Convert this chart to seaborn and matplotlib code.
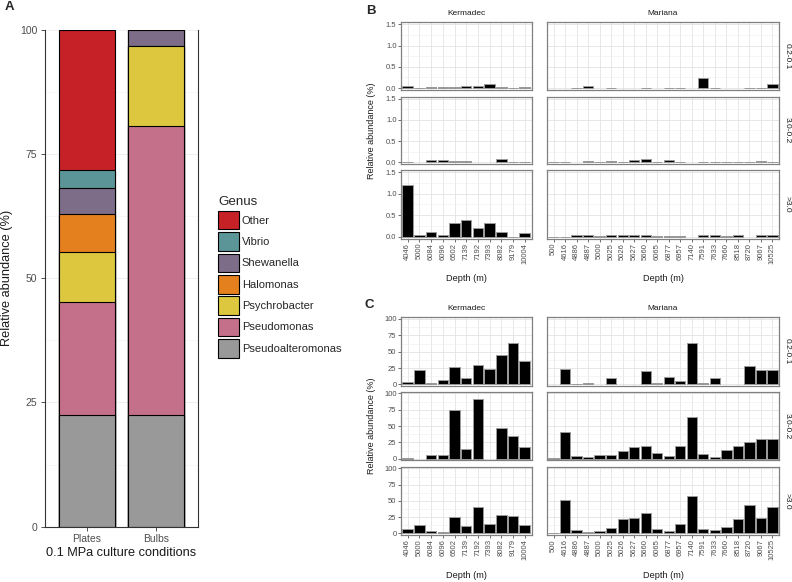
import numpy as np
import pandas as pd
import matplotlib
matplotlib.use("Agg")
import matplotlib.pyplot as plt
import seaborn as sns
from matplotlib.patches import Patch
from matplotlib.ticker import FixedLocator

# ---------------- data ----------------
genera = ["Other", "Vibrio", "Shewanella", "Halomonas", "Psychrobacter",
          "Pseudomonas", "Pseudoalteromonas"]
genus_colors = ["#C62127", "#5B9597", "#7D6D88", "#E5801F", "#DDC73F",
                "#C4708A", "#999999"]
conditions = ["Plates", "Bulbs"]
plates_pct = [28.3, 3.5, 5.3, 7.6, 10.0, 22.9, 22.4]
bulbs_pct = [0.0, 0.0, 3.3, 0.0, 16.0, 58.2, 22.5]

fractions = ["0.2-0.1", "3.0-0.2", ">3.0"]
kermadec_depths = ["4046", "5000", "6084", "6096", "6502", "7139", "7192",
                   "7393", "8082", "9179", "10004"]
mariana_depths = ["500", "4616", "4886", "4887", "5000", "5025", "5026", "5627",
                  "5660", "6065", "6877", "6957", "7140", "7591", "7633", "7660",
                  "8518", "8720", "9067", "10525"]
nan = np.nan

# Panel B (relative abundance, %)
b_kermadec_02 = [0.04, 0.0, 0.03, 0.03, 0.02, 0.04, 0.04, 0.10, 0.02, 0.0, 0.02]
b_kermadec_30 = [0.0, nan, 0.04, 0.05, 0.03, 0.03, nan, nan, 0.07, 0.0, 0.0]
b_kermadec_gt3 = [1.2, 0.05, 0.10, 0.05, 0.32, 0.38, 0.20, 0.31, 0.11, 0.0, 0.09]
b_mariana_02 = [nan, nan, 0.0, 0.06, nan, 0.01, nan, nan, 0.0, nan, 0.01, 0.0,
                nan, 0.24, 0.01, nan, nan, 0.0, 0.0, 0.10]
b_mariana_30 = [0.01, 0.0, nan, 0.03, 0.0, 0.02, 0.01, 0.04, 0.07, 0.0, 0.04, 0.0,
                nan, 0.01, 0.01, 0.01, 0.01, 0.01, 0.02, 0.0]
b_mariana_gt3 = [0.0, 0.0, 0.03, 0.04, 0.01, 0.05, 0.03, 0.03, 0.03, 0.02, 0.01, 0.01,
                 nan, 0.04, 0.03, 0.01, 0.03, nan, 0.04, 0.04]

# Panel C (relative abundance, %)
c_kermadec_02 = [4, 22, 2, 6, 26, 9, 29, 23, 45, 63, 35]
c_kermadec_30 = [1, nan, 5, 6, 75, 15, 92, nan, 47, 34, 18]
c_kermadec_gt3 = [7, 12.5, 4, 2.5, 25, 11, 41, 14, 29, 26, 12.5]
c_mariana_02 = [nan, 23, 1, 2.5, nan, 10, nan, nan, 21, 1.5, 12, 5, 64, 2.5, 10,
                nan, nan, 28, 22, 22]
c_mariana_30 = [1, 41, 3.5, 2, 5.5, 6, 12, 17.5, 19.5, 8.5, 3.5, 19, 64, 6.5, 3,
                13, 19.5, 26, 30, 30]
c_mariana_gt3 = [1, 52, 5, 2.5, 4, 8.5, 22, 23, 31, 6.5, 3, 15, 58, 6.5, 5, 10,
                 22, 43, 24, 41]

# ---------------- figure ----------------
sns.set_theme(style="white")
plt.rcParams["font.family"] = ["Liberation Sans", "DejaVu Sans"]

W, H = 792, 582
fig = plt.figure(figsize=(W / 100, H / 100), dpi=100)
fig.patch.set_facecolor("white")


def rect(x0, y0, x1, y1):
    return [x0 / W, 1 - y1 / H, (x1 - x0) / W, (y1 - y0) / H]


def ftext(x, y, s, **kw):
    fig.text(x / W, 1 - y / H, s, **kw)


TXT = "#1A1A1A"
TICKC = "#4D4D4D"

# ---------------- Panel A ----------------
axA = fig.add_axes(rect(45, 29.6, 198, 526.7))
axA.set_axisbelow(True)
for i, g in enumerate(genera):
    top_plates = sum(plates_pct[i:])
    top_bulbs = sum(bulbs_pct[i:])
    sns.barplot(x=conditions, y=[top_plates, top_bulbs], order=conditions,
                color=genus_colors[i], saturation=1, edgecolor="black",
                linewidth=0.8, width=0.8, errorbar=None, ax=axA)
axA.set_xlim(-0.6, 1.6)
axA.set_ylim(0, 100)
axA.set_yticks([0, 25, 50, 75, 100])
axA.set_yticklabels(["0", "25", "50", "75", "100"])
axA.yaxis.set_minor_locator(FixedLocator([12.5, 37.5, 62.5, 87.5]))
axA.grid(True, which="major", axis="y", color="#EDEDED", lw=0.6)
axA.grid(True, which="minor", axis="y", color="#F4F4F4", lw=0.5)
axA.set_xlabel("")
axA.set_ylabel("")
axA.tick_params(axis="both", which="major", labelsize=7.5, labelcolor=TICKC,
                length=3, width=0.6, color="#333333", pad=2.5, left=True, bottom=True)
axA.tick_params(axis="y", which="minor", left=False)
for side in ["left", "bottom", "right"]:
    axA.spines[side].set_visible(True)
    axA.spines[side].set_color("#333333")
    axA.spines[side].set_linewidth(0.8)
axA.spines["top"].set_visible(False)
ftext(121.5, 553, "0.1 MPa culture conditions", ha="center", va="center",
      fontsize=9.2, color=TXT)
ftext(7, 278, "Relative abundance (%)", ha="center", va="center", rotation=90,
      fontsize=9.2, color=TXT)

handles = [Patch(facecolor=c, edgecolor="black", linewidth=0.8) for c in genus_colors]
leg = fig.legend(handles, genera, title="Genus", loc="upper left",
                 bbox_to_anchor=(218 / W, 1 - 196 / H), frameon=False,
                 fontsize=8, title_fontsize=9.6, handlelength=1.85,
                 handleheight=2.2, labelspacing=0.25, handletextpad=0.3,
                 borderpad=0, borderaxespad=0, alignment="left")

# ---------------- Panels B and C ----------------
cols = {"Kermadec": (400.7, 531.7), "Mariana": (546.7, 779.3)}
depths = {"Kermadec": kermadec_depths, "Mariana": mariana_depths}
sections = [
    dict(rows=[(22.3, 90), (96.7, 164), (170, 238.7)],
         ylim=(-0.045, 1.55), ticks=[0, 0.5, 1.0, 1.5],
         ticklabels=["0.0", "0.5", "1.0", "1.5"], minor=[0.25, 0.75, 1.25],
         data={"Kermadec": [b_kermadec_02, b_kermadec_30, b_kermadec_gt3],
               "Mariana": [b_mariana_02, b_mariana_30, b_mariana_gt3]}),
    dict(rows=[(317.3, 386), (391.7, 460.3), (466.7, 535)],
         ylim=(-2.5, 102.6), ticks=[0, 25, 50, 75, 100],
         ticklabels=["0", "25", "50", "75", "100"], minor=[12.5, 37.5, 62.5, 87.5],
         data={"Kermadec": [c_kermadec_02, c_kermadec_30, c_kermadec_gt3],
               "Mariana": [c_mariana_02, c_mariana_30, c_mariana_gt3]}),
]

for sec in sections:
    rows = sec["rows"]
    for col, (x0, x1) in cols.items():
        dep = depths[col]
        for r, (y0, y1) in enumerate(rows):
            ax = fig.add_axes(rect(x0, y0, x1, y1))
            ax.set_axisbelow(True)
            vals = sec["data"][col][r]
            sns.barplot(x=dep, y=vals, order=dep, color="black", saturation=1,
                        edgecolor="#9A9A9A", linewidth=0.7, width=0.9,
                        errorbar=None, ax=ax)
            ax.set_xlim(-0.6, len(dep) - 0.4)
            ax.set_ylim(*sec["ylim"])
            ax.set_yticks(sec["ticks"])
            ax.set_yticklabels(sec["ticklabels"])
            ax.yaxis.set_minor_locator(FixedLocator(sec["minor"]))
            ax.grid(True, which="major", color="#E3E3E3", lw=0.6)
            ax.grid(True, which="minor", axis="y", color="#F0F0F0", lw=0.45)
            ax.set_xlabel("")
            ax.set_ylabel("")
            for s in ax.spines.values():
                s.set_visible(True)
                s.set_color("#808080")
                s.set_linewidth(0.9)
            ax.tick_params(axis="y", which="minor", left=False)
            if col == "Kermadec":
                ax.tick_params(axis="y", which="major", left=True, length=2,
                               width=0.5, color="#333333", pad=1, labelsize=5.5,
                               labelcolor=TICKC)
            else:
                ax.tick_params(axis="y", which="major", left=False, labelleft=False)
            if r == len(rows) - 1:
                ax.tick_params(axis="x", which="major", bottom=True, length=2,
                               width=0.5, color="#333333", pad=1, labelsize=5.5,
                               labelcolor=TICKC, labelrotation=90)
            else:
                ax.tick_params(axis="x", which="major", bottom=False,
                               labelbottom=False)
            if col == "Mariana":
                ftext(787, (y0 + y1) / 2, fractions[r], ha="center", va="center",
                      rotation=-90, fontsize=6, color=TXT)
        # strip on top and x label below
        ftext((x0 + x1) / 2, rows[0][0] - 9, col, ha="center", va="center",
              fontsize=6, color=TXT)
        ftext((x0 + x1) / 2, rows[-1][1] + 40, "Depth (m)", ha="center",
              va="center", fontsize=6.6, color=TXT)
    ftext(371, (rows[0][0] + rows[-1][1]) / 2, "Relative abundance (%)",
          ha="center", va="center", rotation=90, fontsize=6.5, color=TXT)

# panel letters
ftext(9, 7, "A", ha="center", va="center", fontsize=9.5, fontweight="bold")
ftext(371, 11, "B", ha="center", va="center", fontsize=9.5, fontweight="bold")
ftext(369.5, 305, "C", ha="center", va="center", fontsize=9.5, fontweight="bold")

fig.savefig("out.png", dpi=100, facecolor="white")
